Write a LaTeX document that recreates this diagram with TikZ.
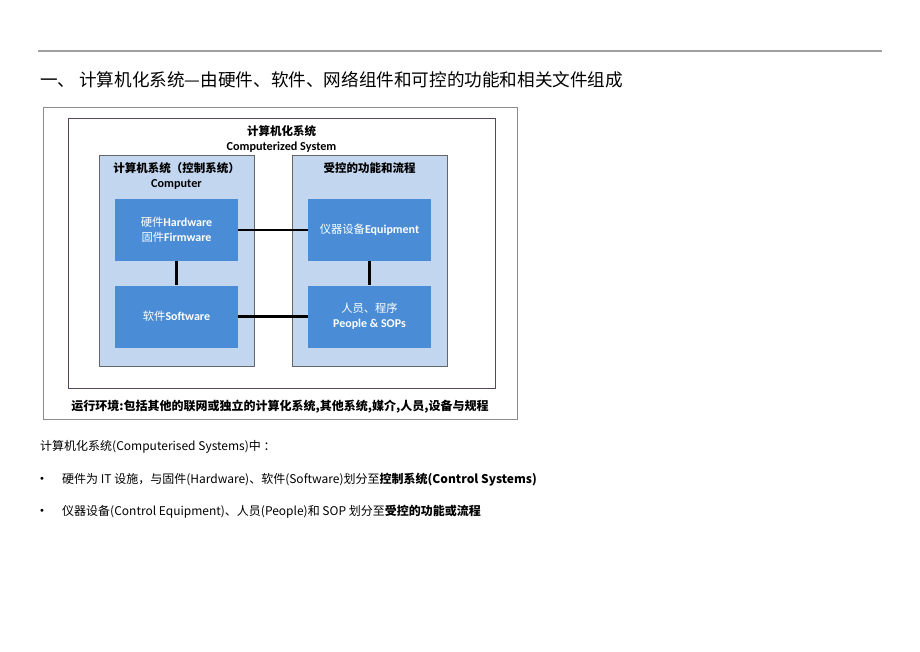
\documentclass[tikz,border=0pt]{standalone}
\usepackage{fontspec}
\setmainfont{Noto Sans CJK SC}
\newfontfamily\carlito[Scale=1.06]{Carlito}
\newfontfamily\dejavu{DejaVu Sans}
\newcommand\lt[1]{{\carlito\bfseries #1}}
\definecolor{panelblue}{HTML}{C3D6EF}
\definecolor{boxblue}{HTML}{4A8CD6}
\definecolor{innerframe}{HTML}{54485A}
\begin{document}
\begin{tikzpicture}[x=1pt,y=-1pt,
  panel/.style={draw=gray!80!black, fill=panelblue, minimum width=155pt, minimum height=211pt, anchor=north west, inner sep=0pt},
  blk/.style={fill=boxblue, minimum width=123pt, minimum height=62pt, text=white, font=\fontsize{11.3}{15}\selectfont, align=center, inner sep=0pt},
  link/.style={line width=2.4pt, black},
  lbl/.style={font=\fontsize{11.5}{15}\selectfont\bfseries, align=center, inner sep=0pt},
  body/.style={font=\fontsize{12}{15}\selectfont, anchor=west, inner sep=0pt}]
\useasboundingbox (0,0) rectangle (920,651);
\coordinate (ruleL) at (38,51);
\coordinate (ruleR) at (882,51);
\draw[gray!75, line width=1.4pt] (ruleL) -- (ruleR);
\node[anchor=west, inner sep=0pt, font=\fontsize{17.6}{20}\selectfont] (title) at (40,80) {一、 计算机化系统—由硬件、软件、网络组件和可控的功能和相关文件组成};
% environment frame
\node[draw=gray!90, minimum width=474pt, minimum height=312pt, anchor=north west, inner sep=0pt] (env) at (43,107) {};
\node[draw=innerframe, minimum width=427pt, minimum height=270pt, anchor=north west, inner sep=0pt] (cs) at (68,118) {};
\node[lbl] (cstitle) at (281.5,139) {计算机化系统\\\lt{Computerized System}};
% panels
\node[panel] (left) at (99,155) {};
\node[panel] (right) at (292,155) {};
\node[lbl, anchor=north] (lefttitle) at (176.5,162) {计算机系统（控制系统）\\\lt{Computer}};
\node[lbl, anchor=north] (righttitle) at (369.5,162) {受控的功能和流程};
% blocks
\node[blk] (hw) at (176.5,230) {硬件\lt{Hardware}\\固件\lt{Firmware}};
\node[blk] (sw) at (176.5,316.5) {软件\lt{Software}};
\node[blk] (eq) at (369.5,230) {仪器设备\lt{Equipment}};
\node[blk] (pp) at (369.5,316.5) {人员、程序\\\lt{People \& SOPs}};
\draw[link] (hw.east) -- (eq.west);
\draw[link] (sw.east) -- (pp.west);
\draw[link] (hw.south) -- (sw.north);
\draw[link] (eq.south) -- (pp.north);
\node[font=\fontsize{12}{14}\selectfont\bfseries, inner sep=0pt] (envtext) at (280,407) {运行环境:包括其他的联网或独立的计算化系统,其他系统,媒介,人员,设备与规程};
% body text
\node[body] (intro) at (40,447) {计算机化系统(Computerised Systems)中 ：};
\node[body, font=\dejavu\fontsize{10}{12}\selectfont] (b1) at (39,480) {•};
\node[body] (t1) at (62,480) {硬件为 IT 设施，与固件(Hardware)、软件(Software)划分至\textbf{控制系统(Control Systems)}};
\node[body, font=\dejavu\fontsize{10}{12}\selectfont] (b2) at (39,512) {•};
\node[body] (t2) at (62,512) {仪器设备(Control Equipment)、人员(People)和 SOP 划分至\textbf{受控的功能或流程}};
\end{tikzpicture}
\end{document}
